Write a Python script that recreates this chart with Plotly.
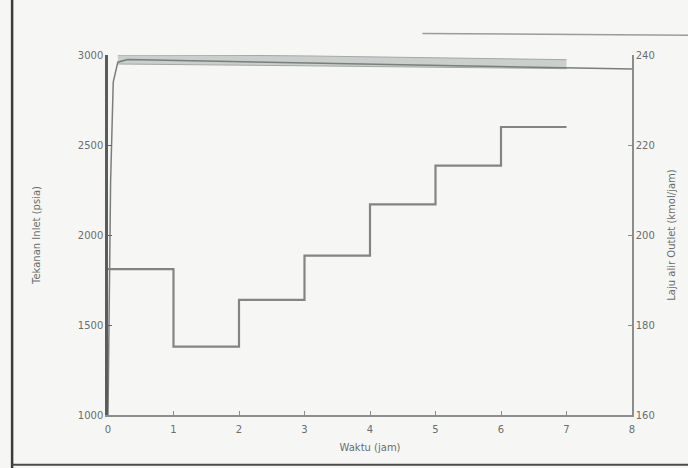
import plotly.graph_objects as go

# Step series (left axis, psia)
step_hours = [0, 1, 2, 3, 4, 5, 6, 7]
step_values = [1810, 1380, 1640, 1885, 2170, 2385, 2600, 2600]

# Fast-rising top line
top_hours = [0, 0.04, 0.08, 0.15, 0.3, 1, 2, 3, 4, 5, 6, 7, 8]
top_values = [1000, 2300, 2850, 2960, 2975, 2970, 2962, 2955, 2948, 2942, 2936, 2930, 2922]

# Grey fluctuation band
band_hours = [0.15, 1, 2, 3, 4, 5, 6, 7]
band_upper = [3000, 3000, 2998, 2995, 2990, 2985, 2980, 2974]
band_lower = [2950, 2948, 2944, 2940, 2936, 2932, 2928, 2924]

x_ticks = [0, 1, 2, 3, 4, 5, 6, 7, 8]
left_ticks = [1000, 1500, 2000, 2500, 3000]
right_ticks = [160, 180, 200, 220, 240]

fig = go.Figure()
fig.add_trace(go.Scatter(x=band_hours, y=band_upper, mode="lines",
                         line=dict(color="#a4a8a6", width=1), showlegend=False))
fig.add_trace(go.Scatter(x=band_hours, y=band_lower, mode="lines",
                         line=dict(color="#a4a8a6", width=1), fill="tonexty",
                         fillcolor="rgba(190,196,194,0.8)", showlegend=False))
fig.add_trace(go.Scatter(x=top_hours, y=top_values, mode="lines",
                         line=dict(color="#7a7e7c", width=1.5), showlegend=False))
fig.add_trace(go.Scatter(x=step_hours, y=step_values, mode="lines",
                         line=dict(color="#828583", width=2.2, shape="hv"), showlegend=False))
fig.add_trace(go.Scatter(x=[0, 8], y=[160, 160], yaxis="y2", mode="lines",
                         line=dict(color="rgba(0,0,0,0)"), showlegend=False, hoverinfo="skip"))

font_c = "#6a6d6b"
fig.update_layout(
    width=688, height=468,
    margin=dict(l=108, r=56, t=55, b=53),
    paper_bgcolor="#f6f7f5", plot_bgcolor="#f6f7f5",
    font=dict(family="DejaVu Sans", size=10, color=font_c),
    xaxis=dict(range=[0, 8], tickvals=x_ticks, ticks="inside", ticklen=4,
               tickcolor="#8a8d8b", showgrid=False, zeroline=False,
               showline=True, linecolor="#8a8d8b", linewidth=1.5, ticklabelstandoff=4,
               title=dict(text="Waktu (jam)", font=dict(size=10, color=font_c), standoff=10)),
    yaxis=dict(range=[1000, 3000], tickvals=left_ticks, ticks="inside", ticklen=4,
               tickcolor="#666", showgrid=False, zeroline=False,
               showline=True, linecolor="#5a5d5b", linewidth=2.5,
               title=dict(text="Tekanan Inlet (psia)", font=dict(size=10, color=font_c), standoff=36)),
    yaxis2=dict(range=[160, 240], tickvals=right_ticks, overlaying="y", side="right",
                ticks="inside", ticklen=4, tickcolor="#8a8d8b", showgrid=False, zeroline=False,
                showline=True, linecolor="#8a8d8b", linewidth=1.5,
                title=dict(text="Laju alir Outlet (kmol/jam)", font=dict(size=10, color=font_c), standoff=14)),
    shapes=[
        dict(type="line", xref="paper", yref="paper", x0=-0.183, x1=-0.183, y0=-0.15, y1=1.2,
             line=dict(color="#3a3c3b", width=2.5), layer="below"),
        dict(type="line", xref="paper", yref="paper", x0=-0.183, x1=1.12, y0=-0.138, y1=-0.138,
             line=dict(color="#4a4c4b", width=2), layer="below"),
        dict(type="line", xref="paper", yref="paper", x0=0.6, x1=1.12, y0=1.06, y1=1.055,
             line=dict(color="#9a9c9b", width=1.5), layer="below"),
    ],
)

fig.write_html("out.html")
